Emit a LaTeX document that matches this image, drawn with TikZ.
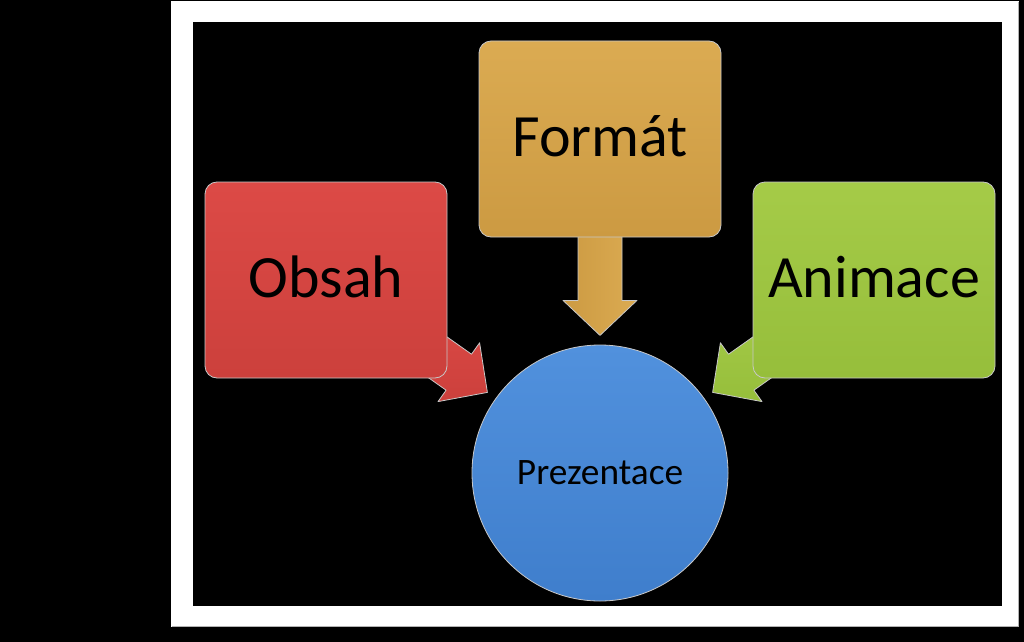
\documentclass[tikz,border=0pt]{standalone}
\usepackage{fontspec}
\setmainfont{Carlito}
\usetikzlibrary{calc}
\pgfdeclarelayer{back}
\pgfdeclarelayer{mid}
\pgfsetlayers{back,mid,main}
\definecolor{redT}{HTML}{DC4A46}
\definecolor{redB}{HTML}{CC403C}
\definecolor{goldT}{HTML}{DBAB52}
\definecolor{goldB}{HTML}{CC9A42}
\definecolor{greenT}{HTML}{A5CB48}
\definecolor{greenB}{HTML}{96BE3B}
\definecolor{blueT}{HTML}{5191DD}
\definecolor{blueB}{HTML}{3F7ECC}
\definecolor{rimcol}{HTML}{C8C8C8}
\tikzset{
  box/.style={rectangle, rounded corners=9pt, minimum width=181.5pt, minimum height=147pt,
    draw=rimcol, line width=0.6pt, font=\fontsize{45}{50}\selectfont, text=black,
    text height=26pt, text depth=0pt, inner sep=0pt},
  hub/.style={circle, minimum size=192pt, draw=rimcol, line width=0.6pt,
    font=\fontsize{28}{32}\selectfont, text=black, text height=17pt, text depth=0pt, inner sep=0pt},
  blockarrow/.style={draw=rimcol, line width=0.6pt, line join=round}
}
\begin{document}
\begin{tikzpicture}[x=0.75pt,y=-0.75pt]
\useasboundingbox (0,0) rectangle (1024,642);
\begin{pgfonlayer}{back}
  \fill[black] (0,0) rectangle (1024,642);
  \fill[white] (171,1) rectangle (1019,627);
  \draw[gray!60, line width=1pt] (172,626.5) -- (1018.5,626.5) -- (1018.5,2);
  \fill[black] (193,22) rectangle (1002,606);
\end{pgfonlayer}

\node[box, top color=redT, bottom color=redB] (obsah) at (326,280) {Obsah};
\node[box, top color=goldT, bottom color=goldB] (format) at (600,139) {Formát};
\node[box, top color=greenT, bottom color=greenB] (animace) at (874,280) {Animace};
\node[hub, top color=blueT, bottom color=blueB] (prez) at (600,473) {Prezentace};

\begin{pgfonlayer}{mid}
  % Formát -> Prezentace
  \begin{scope}[shift={(format.south)}]
    \draw[blockarrow, left color=goldB, right color=goldT]
      (-22,-37) -- (22,-37) -- (22,63) -- (37,63) -- (0,98) -- (-37,63) -- (-22,63) -- cycle;
  \end{scope}
  % Obsah -> Prezentace
  \begin{scope}[shift={(obsah.south east)}]
    \draw[blockarrow, top color=redT, bottom color=redB]
      (-41.3,-70.4) -- (24.1,-24.2) -- (32.2,-35.6) -- (40,14) -- (-9.4,23.2) -- (-1.3,11.8) -- (-66.7,-34.4) -- cycle;
  \end{scope}
  % Animace -> Prezentace
  \begin{scope}[shift={(animace.south west)}, xscale=-1]
    \draw[blockarrow, top color=greenT, bottom color=greenB]
      (-41.3,-70.4) -- (24.1,-24.2) -- (32.2,-35.6) -- (40,14) -- (-9.4,23.2) -- (-1.3,11.8) -- (-66.7,-34.4) -- cycle;
  \end{scope}
\end{pgfonlayer}
\end{tikzpicture}
\end{document}
